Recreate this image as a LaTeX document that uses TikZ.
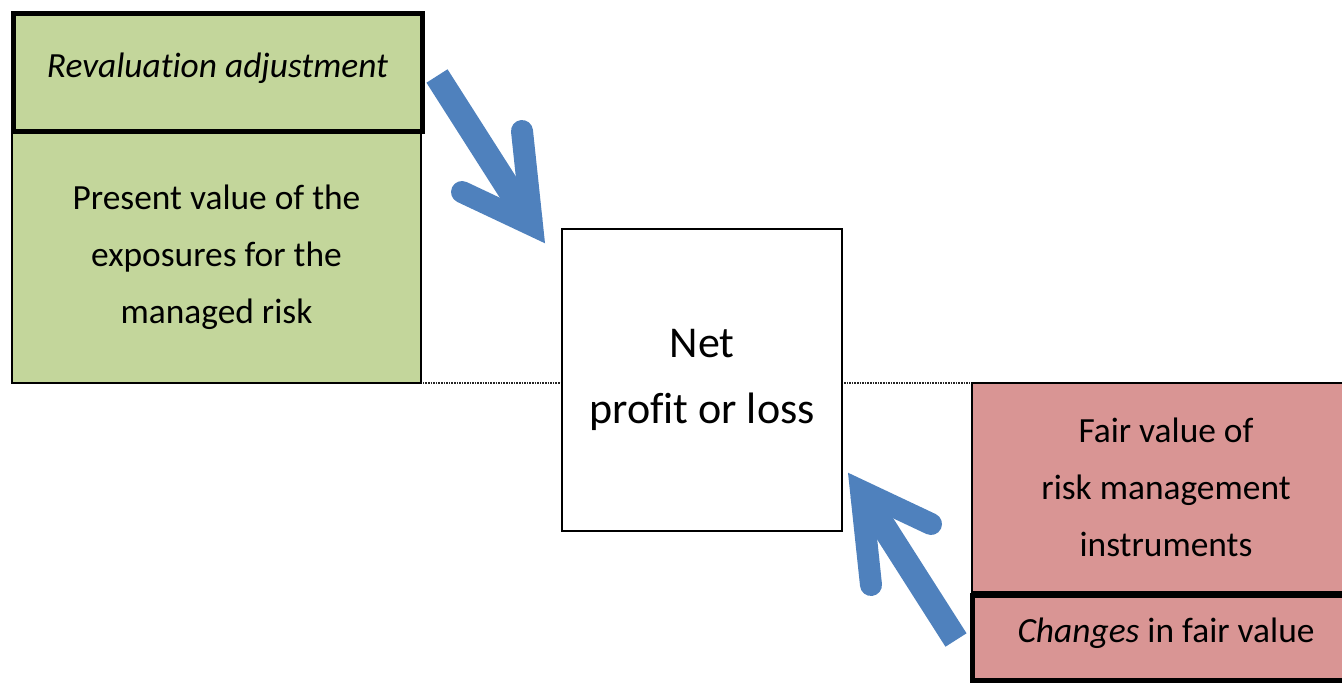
\documentclass[tikz,border=0pt]{standalone}
\usepackage{fontspec}
\setmainfont{Carlito}[Ligatures=NoCommon]
\definecolor{grn}{HTML}{C3D69B}
\definecolor{rd}{HTML}{D99594}
\definecolor{blu}{HTML}{4F81BD}
\begin{document}
\begin{tikzpicture}[x=1pt,y=-1pt,
  thinbox/.style={draw=black, line width=1.3pt, inner sep=0pt, align=center},
  thickbox/.style={draw=black, line width=5pt, inner sep=0pt, align=center},
  shaft/.style={draw=blu, line width=25pt, line cap=butt},
  barbs/.style={draw=blu, line width=22pt, line cap=round, line join=miter},
  sidetext/.style={font=\fontsize{35.4}{57}\selectfont},
  nettext/.style={font=\fontsize{44}{66}\selectfont}]
\useasboundingbox (0,0) rectangle (1342,683);
% dotted horizon line
\coordinate (hl) at (12,383);
\coordinate (hr) at (1342,383);
\draw[densely dotted, line width=1.6pt, black!85] (hl) -- (hr);
% left green boxes
\node[thinbox, fill=grn, minimum width=409pt, minimum height=251pt, sidetext] (present) at (216.5,257.5)
  {Present value of the\\exposures for the\\managed risk};
\node[thickbox, fill=grn, minimum width=409pt, minimum height=118pt, sidetext] (reval) at (217.5,72)
  {\raisebox{14pt}{\itshape Revaluation adjustment}};
% center box
\node[thinbox, fill=white, minimum width=280pt, minimum height=302pt, nettext] (net) at (702,380)
  {Net\\profit or loss};
% right red boxes
\node[thinbox, fill=rd, minimum width=388pt, minimum height=209pt, sidetext] (fair) at (1166,487.5)
  {Fair value of\\risk management\\instruments};
\node[thickbox, fill=rd, minimum width=388pt, minimum height=85pt, sidetext] (changes) at (1166,637.5)
  {\raisebox{14pt}{\textit{Changes} in fair value}};
% arrow 1 (down-right)
\coordinate (a1s) at (437,76);
\coordinate (a1v) at (532,225);
\coordinate (a1b1) at (522,131);
\coordinate (a1b2) at (462,192);
\draw[shaft] (a1s) -- (a1v);
\draw[barbs] (a1b1) -- (a1v) -- (a1b2);
% arrow 2 (up-left)
\coordinate (a2s) at (956,640);
\coordinate (a2v) at (861,491);
\coordinate (a2b1) at (871,585);
\coordinate (a2b2) at (931,524);
\draw[shaft] (a2s) -- (a2v);
\draw[barbs] (a2b1) -- (a2v) -- (a2b2);
\end{tikzpicture}
\end{document}
